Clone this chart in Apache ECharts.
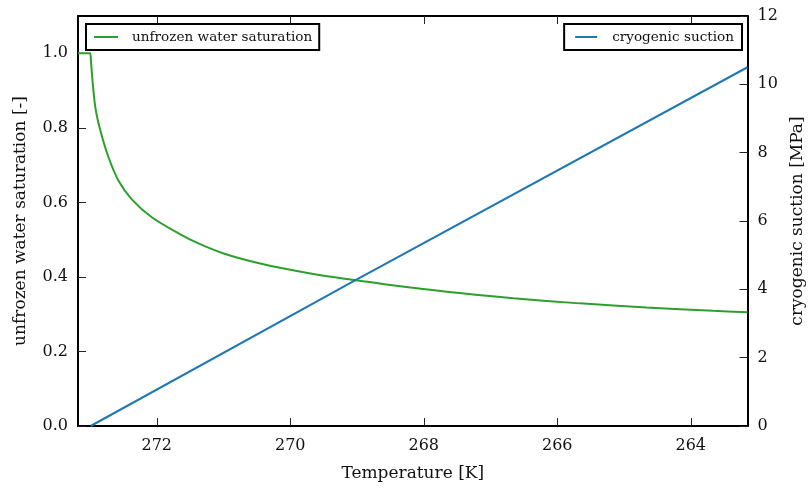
<!DOCTYPE html>
<html>
<head>
<meta charset="utf-8">
<script src="https://cdn.jsdelivr.net/npm/echarts@6/dist/echarts.min.js"></script>
<style>
  html, body { margin: 0; padding: 0; background: #fff; }
  #chart { width: 809px; height: 488px; }
</style>
</head>
<body>
<div id="chart"></div>
<script>
// Temperature samples [K] and unfrozen water saturation [-]
const satTemps = [273.18, 273.00, 272.987, 272.972, 272.922, 272.847, 272.723, 272.573, 272.374,
  272.075, 271.675, 271.376, 270.998, 270.498, 270.0, 269.50, 269.05, 268.50,
  267.655, 266.659, 265.661, 264.663, 263.667, 263.15];
const saturation = [1.0, 1.0, 0.982, 0.946, 0.857, 0.794, 0.721, 0.658, 0.608,
  0.560, 0.517, 0.490, 0.463, 0.438, 0.419, 0.403, 0.392, 0.378,
  0.360, 0.343, 0.329, 0.318, 0.309, 0.305];

// Temperature samples [K] and cryogenic suction [MPa]
const suctionTemps = [272.99, 269.05, 263.15];
const suction = [0.0, 4.24, 10.50];

// Tick positions
const tempTicks = [264, 266, 268, 270, 272];
const satTicks = [0.0, 0.2, 0.4, 0.6, 0.8, 1.0];
const suctionTicks = [0, 2, 4, 6, 8, 10, 12];

const FONT = 'DejaVu Serif';
const GREEN = '#2ca02c';
const BLUE = '#1f77b4';

const frameLine = { show: true, onZero: false, lineStyle: { color: '#000', width: 2 } };
const tick = (vals) => ({ show: true, inside: true, length: 8, customValues: vals,
  lineStyle: { color: '#222', width: 1 } });

const chart = echarts.init(document.getElementById('chart'), null, { renderer: 'canvas' });

chart.setOption({
  animation: false,
  backgroundColor: '#fff',
  grid: { left: 78, right: 61.5, top: 16, bottom: 62, containLabel: false, outerBoundsMode: 'none' },
  legend: [
    {
      data: ['unfrozen water saturation'],
      left: 86, top: 24,
      orient: 'horizontal',
      icon: 'rect', itemWidth: 24, itemHeight: 2,
      padding: [6, 7, 6, 8],
      borderColor: '#000', borderWidth: 2, borderRadius: 0,
      textStyle: { fontFamily: FONT, fontSize: 13.6, color: '#111', padding: [0, 0, 0, 9] }
    },
    {
      data: ['cryogenic suction'],
      right: 67, top: 24,
      orient: 'horizontal',
      icon: 'rect', itemWidth: 22, itemHeight: 2,
      padding: [6, 8, 6, 11],
      borderColor: '#000', borderWidth: 2, borderRadius: 0,
      textStyle: { fontFamily: FONT, fontSize: 13.6, color: '#111', padding: [0, 0, 0, 10] }
    }
  ],
  xAxis: [
    {
      type: 'value', position: 'bottom', inverse: true,
      min: 263.15, max: 273.18,
      axisLine: frameLine,
      axisTick: tick(tempTicks),
      axisLabel: { customValues: tempTicks, margin: 12, fontFamily: FONT, fontSize: 16, color: '#111' },
      splitLine: { show: false },
      name: 'Temperature [K]', nameLocation: 'middle', nameGap: 39,
      nameTextStyle: { fontFamily: FONT, fontSize: 17, color: '#111' }
    },
    {
      type: 'value', position: 'top', inverse: true,
      min: 263.15, max: 273.18,
      axisLine: frameLine,
      axisTick: tick(tempTicks),
      axisLabel: { show: false },
      splitLine: { show: false }
    }
  ],
  yAxis: [
    {
      type: 'value', position: 'left',
      min: 0, max: 1.1,
      axisLine: frameLine,
      axisTick: tick(satTicks),
      axisLabel: { customValues: satTicks, margin: 10, fontFamily: FONT, fontSize: 16, color: '#111',
        formatter: (v) => v.toFixed(1) },
      splitLine: { show: false },
      name: 'unfrozen water saturation [-]', nameLocation: 'middle', nameGap: 49, nameRotate: 90,
      nameTextStyle: { fontFamily: FONT, fontSize: 17, color: '#111' }
    },
    {
      type: 'value', position: 'right',
      min: 0, max: 12,
      axisLine: frameLine,
      axisTick: tick(suctionTicks),
      axisLabel: { customValues: suctionTicks, margin: 10, fontFamily: FONT, fontSize: 16, color: '#111' },
      splitLine: { show: false },
      name: 'cryogenic suction [MPa]', nameLocation: 'middle', nameGap: 41, nameRotate: 90,
      nameTextStyle: { fontFamily: FONT, fontSize: 17, color: '#111' }
    }
  ],
  series: [
    {
      name: 'unfrozen water saturation',
      type: 'line',
      xAxisIndex: 0, yAxisIndex: 0,
      data: satTemps.map((t, i) => [t, saturation[i]]),
      showSymbol: false, symbol: 'none',
      smooth: 0.3,
      lineStyle: { color: GREEN, width: 2 },
      itemStyle: { color: GREEN }
    },
    {
      name: 'cryogenic suction',
      type: 'line',
      xAxisIndex: 0, yAxisIndex: 1,
      data: suctionTemps.map((t, i) => [t, suction[i]]),
      showSymbol: false, symbol: 'none',
      lineStyle: { color: BLUE, width: 2 },
      itemStyle: { color: BLUE }
    }
  ]
});
</script>
</body>
</html>
